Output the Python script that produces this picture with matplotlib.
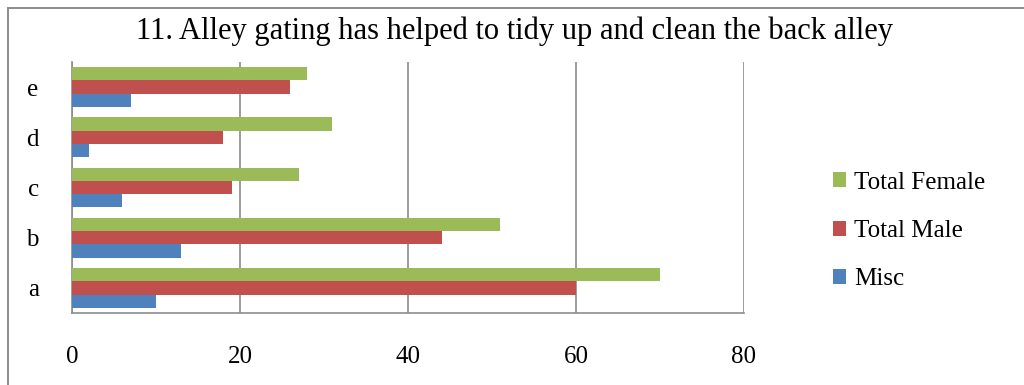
import matplotlib
matplotlib.use("Agg")
import matplotlib.pyplot as plt
from matplotlib.patches import Rectangle
import numpy as np

categories = ["a", "b", "c", "d", "e"]
misc = [10, 13, 6, 2, 7]
total_male = [60, 44, 19, 18, 26]
total_female = [70, 51, 27, 31, 28]
x_ticks = [0, 20, 40, 60, 80]

title = "11. Alley gating has helped to tidy up and clean the back alley"

plt.rcParams["font.family"] = ["Liberation Serif", "DejaVu Serif"]

fig = plt.figure(figsize=(10.24, 3.85), dpi=100)
fig.patch.set_facecolor("white")

# outer chart frame (left and top edges visible)
fig.add_artist(Rectangle((8 / 1024, -0.2), 1.5, 1.2 - 8 / 385,
                         transform=fig.transFigure, fill=False,
                         edgecolor="#8c8c8c", linewidth=1.4))

ax = fig.add_axes([72 / 1024, 1 - 313 / 385, (744 - 72) / 1024, (313 - 62) / 385])

y = np.arange(len(categories))
h = 0.265
ax.barh(y - h, misc, height=h, color="#4F81BD", label="Misc", zorder=3)
ax.barh(y, total_male, height=h, color="#C0504D", label="Total Male", zorder=3)
ax.barh(y + h, total_female, height=h, color="#9BBB59", label="Total Female", zorder=3)

ax.set_xlim(0, 80)
ax.set_ylim(-0.5, len(categories) - 0.5)
ax.set_xticks(x_ticks)
ax.set_xticklabels([str(t) for t in x_ticks], fontsize=18)
ax.set_yticks(y)
ax.set_yticklabels(categories, fontsize=18)
ax.tick_params(axis="x", length=0, pad=24)
ax.tick_params(axis="y", length=0, pad=24)

ax.grid(axis="x", color="#8c8c8c", linewidth=1.2, zorder=0)
for side in ["top", "right"]:
    ax.spines[side].set_visible(False)
ax.spines["left"].set_color("#8c8c8c")
ax.spines["bottom"].set_color("#8c8c8c")
ax.spines["left"].set_linewidth(1.2)
ax.spines["bottom"].set_linewidth(1.2)

fig.text(514 / 1024, 1 - 31 / 385, title, ha="center", va="center", fontsize=22)

handles, labels = ax.get_legend_handles_labels()
leg = fig.legend(handles[::-1], labels[::-1], loc="center left",
                 bbox_to_anchor=(810 / 1024, 1 - 231 / 385), frameon=False,
                 fontsize=18, handlelength=0.55, handleheight=0.55,
                 handletextpad=0.3, labelspacing=1.05)

fig.savefig("out.png", dpi=100)
